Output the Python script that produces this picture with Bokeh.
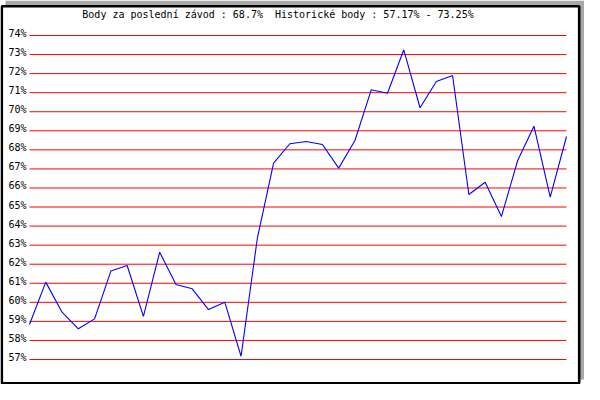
from bokeh.plotting import figure
from bokeh.models import BoxAnnotation, Range1d, ColumnDataSource
from bokeh.embed import file_html
from bokeh.resources import INLINE
from bokeh.core.properties import value

# ---- data ----
races = list(range(34))
points = [58.84, 61.06, 59.48, 58.61, 59.13, 61.64, 61.93, 59.26, 62.63, 60.94,
          60.71, 59.62, 60.01, 57.17, 63.35, 67.30, 68.32, 68.44, 68.28, 67.04,
          68.49, 71.15, 70.97, 73.25, 70.21, 71.59, 71.90, 65.66, 66.30, 64.50,
          67.44, 69.24, 65.52, 68.70]
y_ticks = list(range(57, 75))
y_labels = [f"{t}%" for t in y_ticks]
title_text = "Body za poslední závod : 68.7%\u00a0\u00a0Historické body : 57.17% - 73.25%"

# ---- layout (pixels) ----
W, H = 584, 384
AREA_L, AREA_R, AREA_T, AREA_B = 29, 566, 35, 359

x0, x1 = races[0], races[-1]
y0, y1 = y_ticks[0], y_ticks[-1]
ppx = (AREA_R - AREA_L) / (x1 - x0)
ppy = (AREA_B - AREA_T) / (y1 - y0)

p = figure(width=W, height=H, output_backend="svg", toolbar_location=None,
           x_axis_type=None, y_axis_type=None,
           x_range=Range1d(x0 - AREA_L / ppx, x1 + (W - AREA_R) / ppx),
           y_range=Range1d(y0 - (H - AREA_B) / ppy, y1 + AREA_T / ppy),
           min_border=0, min_border_left=0, min_border_right=0,
           min_border_top=0, min_border_bottom=0)
p.outline_line_color = None
p.background_fill_color = "white"
p.border_fill_color = "white"
p.grid.visible = False

# shadow + black frame (canvas units, y measured from bottom)
shadow = BoxAnnotation(left=5, right=W, top=H - 5, bottom=0,
                       left_units="canvas", right_units="canvas",
                       top_units="canvas", bottom_units="canvas",
                       fill_color="#a8a8a8", fill_alpha=1, line_color=None,
                       level="underlay")
frame = BoxAnnotation(left=1.3, right=578.7, top=H - 1.3, bottom=H - 378.2,
                      left_units="canvas", right_units="canvas",
                      top_units="canvas", bottom_units="canvas",
                      fill_color="white", fill_alpha=1, line_color="black",
                      line_alpha=1, line_width=2.6, level="underlay")
p.add_layout(shadow)
p.add_layout(frame)

# red horizontal lines
p.segment(x0=[x0] * len(y_ticks), x1=[x1] * len(y_ticks), y0=y_ticks, y1=y_ticks,
          line_color="#ff0000", line_width=1)

# tick labels
p.text(x=[x0] * len(y_ticks), y=y_ticks, text=y_labels, x_offset=-3, y_offset=-2,
       text_align="right", text_baseline="alphabetic",
       text_font=value("DejaVu Sans Mono"), text_font_size="10px", text_color="black")

# title
p.text(x=[(x0 + x1) / 2], y=[y1], text=[title_text], x_offset=-20, y_offset=-21,
       text_align="center", text_baseline="middle",
       text_font=value("DejaVu Sans Mono"), text_font_size="10px", text_color="black")

# data line
src = ColumnDataSource(dict(x=races, y=points))
p.line("x", "y", source=src, line_color="#0000ff", line_width=1.1)

open("out.html", "w").write(file_html(p, INLINE))
